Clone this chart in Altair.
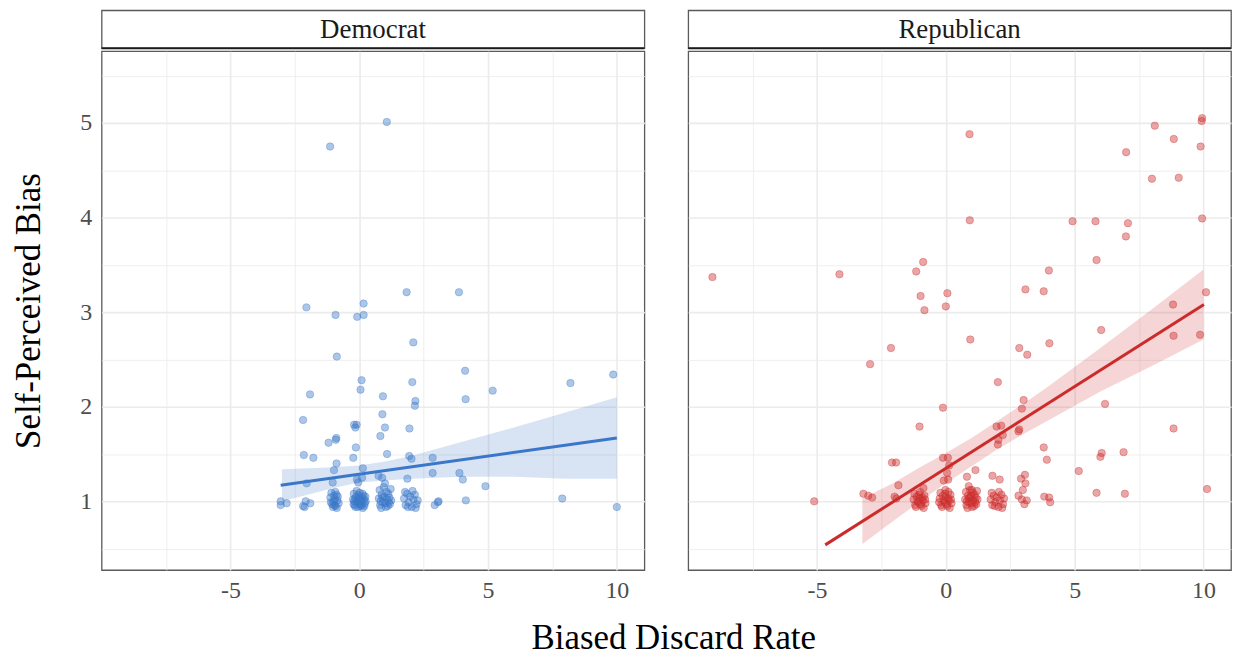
import altair as alt
import pandas as pd

FONT = "Liberation Serif"

# ---------------- data ----------------
dem_x = [1.07, -1.13, 1.84, 3.87, 0.17, -2.05, -0.92, -0.08, 0.17, 2.10, -0.87, 4.11, 9.86, 8.2,
         0.09, 2.06, 5.18, 0.05, -1.91, 0.92, 4.13, 2.18, 2.16, 0.9, -2.18, -0.2, -0.1, -0.15, 1.0,
         1.95, 0.82, -1.19, -0.91, -0.89, -0.13, -2.15, -1.78, 1.08, 1.94, 2.03, -0.23, -0.88, 2.85,
         0.14, -0.98, 2.85, 3.89, 4.02, 0.75, 0.89, -0.09, 0.11, -0.04, -1.03, -2.04, 1.87, 4.9,
         -3.05, -3.05, -2.82, -2.18, -2.08, -1.9, -2.12, 2.93, 3.08, 3.05, 4.14, 7.88, 10.0,
         # cluster near -1
         -1.12, -1.05, -0.98, -0.92, -0.85, -1.08, -0.95, -0.80, -1.02, -0.88, -1.10, -0.93, -0.83,
         -1.00, -0.96, -0.87,
         # cluster near 0
         -0.24, -0.18, -0.12, -0.06, 0.00, 0.05, 0.11, 0.17, 0.22, -0.21, -0.15, -0.09, -0.03, 0.03,
         0.08, 0.14, 0.19, 0.25, -0.22, -0.10, 0.02, 0.13, -0.05, 0.07, -0.16, 0.20, -0.01, 0.10,
         -0.19, 0.24,
         # cluster near 1
         0.76, 0.81, 0.87, 0.92, 0.97, 1.03, 1.08, 1.13, 1.19, 1.24, 0.79, 0.85, 0.90, 0.95, 1.01,
         1.06, 1.11, 1.17, 1.22, 0.83, 1.00, 1.15,
         # cluster near 2
         1.74, 1.80, 1.86, 1.92, 1.98, 2.04, 2.10, 2.16, 2.22, 2.27, 1.78, 2.07, 2.19, 1.89]
dem_y = [5.01, 4.75, 3.21, 3.21, 3.09, 3.05, 2.97, 2.95, 2.97, 2.68, 2.53, 2.38, 2.34, 2.25,
         2.28, 2.26, 2.17, 2.18, 2.13, 2.11, 2.08, 2.06, 2.01, 1.92, 1.86, 1.81, 1.81, 1.78, 1.78,
         1.77, 1.69, 1.62, 1.65, 1.67, 1.57, 1.49, 1.46, 1.50, 1.48, 1.45, 1.46, 1.40, 1.46,
         1.35, 1.33, 1.30, 1.30, 1.23, 1.27, 1.25, 1.23, 1.25, 1.20, 1.20, 1.19, 1.24, 1.16,
         1.00, 0.96, 0.98, 0.95, 1.00, 0.98, 0.94, 0.96, 1.00, 0.99, 1.01, 1.03, 0.94,
         1.04, 0.97, 1.06, 0.95, 1.01, 1.09, 1.02, 0.98, 0.94, 1.07, 0.99, 1.10, 1.05,
         1.00, 0.96, 0.93,
         1.02, 0.96, 1.05, 0.99, 1.03, 0.95, 1.01, 1.06, 0.98, 1.08, 0.94, 1.00, 1.07, 0.97,
         1.04, 0.93, 1.02, 1.00, 0.97, 1.11, 1.09, 1.08, 0.94, 1.00, 1.03, 0.95, 1.01, 0.96,
         1.00, 1.05,
         1.03, 0.96, 1.07, 0.99, 1.05, 0.94, 1.02, 1.08, 0.97, 1.01, 1.12, 0.93, 1.04, 1.15, 0.98,
         1.10, 0.95, 1.04, 1.13, 1.00, 1.19, 0.99,
         1.03, 0.96, 1.08, 0.99, 1.05, 0.94, 1.02, 1.07, 0.97, 1.01, 1.10, 1.11, 0.93, 0.94]

rep_x = [9.95, 9.93, 8.11, 0.92, 8.85, 9.89, 7.0, 8.0, 9.04,
         0.93, 4.92, 5.81, 7.07, 9.95, 6.99, 5.85, -0.88, -9.06, -4.13, -1.15, 4.0,
         -0.98, 0.06, 0.0, -0.83, 3.09, 3.80, 10.1, 8.82, 6.03, 8.84, 9.87, 0.95, 2.85, 4.02, 3.16,
         -2.13, -2.94,
         2.02, -0.11, 3.02, 2.95, 6.18, -1.02, 1.97, 2.15, 2.85, 8.84,
         2.21, 2.04, 2.02, 2.82, 3.80, 3.92, 6.05, 6.0, 6.9, 5.16, 5.85, 6.95, -2.09, -1.93, -0.11,
         0.08, 0.13, 0.05, -0.08, 0.09, -1.84, 1.15, 0.82, 1.81, 2.09, 2.92, 3.07, 3.09, 2.99, 0.89,
         1.01, -0.87, -1.99, 3.82, 4.01, 4.05, 2.82, 3.14, -5.11, -3.2, -3.01, -2.86, -1.92, 10.14,
         2.95, 3.05,
         # cluster near -1
         -1.25, -1.19, -1.13, -1.07, -1.01, -0.95, -0.89, -0.83, -0.79, -1.22, -1.16, -1.10, -1.04,
         -0.98, -0.92, -0.86, -1.00, -0.80,
         # cluster near 0
         -0.24, -0.18, -0.12, -0.06, 0.00, 0.06, 0.12, 0.18, 0.22, -0.21, -0.15, -0.09, -0.03, 0.03,
         0.09, 0.15, 0.20, -0.02, -0.26, 0.10,
         # cluster near 1
         0.75, 0.80, 0.86, 0.91, 0.96, 1.02, 1.07, 1.12, 1.18, 1.23, 0.78, 0.84, 0.89, 0.94, 1.00,
         1.05, 1.10, 1.16, 1.21, 0.82, 0.98, 1.14,
         # cluster near 2
         1.74, 1.80, 1.86, 1.92, 1.98, 2.04, 2.10, 2.16, 2.22, 2.26, 1.78, 2.06, 2.19, 1.90]
rep_y = [5.05, 5.02, 4.97, 4.88, 4.83, 4.75, 4.69, 4.41, 4.42,
         3.97, 3.96, 3.96, 3.94, 3.99, 3.80, 3.55, 3.53, 3.37, 3.40, 3.43, 3.44,
         3.17, 3.20, 3.06, 3.02, 3.24, 3.22, 3.21, 3.08, 2.81, 2.75, 2.76, 2.71, 2.62, 2.67, 2.55,
         2.62, 2.45,
         2.26, 1.99, 2.07, 1.98, 2.03, 1.79, 1.79, 1.80, 1.76, 1.77,
         1.70, 1.65, 1.60, 1.74, 1.57, 1.44, 1.51, 1.47, 1.52, 1.32, 1.09, 1.08, 1.41, 1.41, 1.46,
         1.46, 1.38, 1.30, 1.22, 1.23, 1.17, 1.33, 1.26, 1.27, 1.23, 1.24, 1.28, 1.19, 1.12, 1.16,
         1.12, 1.14, 1.05, 1.05, 1.04, 0.99, 1.06, 1.01, 1.00, 1.08, 1.06, 1.04, 1.03, 1.13,
         1.02, 0.97,
         1.02, 0.96, 1.05, 0.99, 1.03, 0.95, 1.01, 1.06, 0.98, 1.08, 0.94, 1.00, 1.07,
         0.97, 1.04, 0.93, 1.10, 1.02,
         1.03, 0.96, 1.06, 0.99, 1.04, 0.95, 1.01, 1.07, 0.98, 1.09, 0.94, 1.01, 1.08, 0.97,
         1.03, 0.93, 1.02, 1.12, 0.99, 1.10,
         1.02, 0.96, 1.06, 0.99, 1.04, 0.94, 1.01, 1.07, 0.97, 1.02, 1.10, 0.93, 1.03, 1.12, 0.98,
         1.09, 0.95, 1.04, 1.11, 1.00, 1.06, 0.99,
         1.02, 0.96, 1.06, 0.99, 1.04, 0.94, 1.01, 1.07, 0.97, 1.03, 1.09, 1.10, 0.93, 0.95]

# fitted lines and confidence bands
dem_line_x = [-3.05, 10.0]
dem_line_y = [1.17, 1.67]
dem_band_x = [-3, -2, -1, 0, 1, 2, 4, 6, 8, 10]
dem_band_lo = [1.00, 1.07, 1.14, 1.20, 1.22, 1.24, 1.26, 1.26, 1.24, 1.24]
dem_band_hi = [1.34, 1.35, 1.36, 1.38, 1.42, 1.48, 1.63, 1.78, 1.94, 2.10]

rep_line_x = [-4.68, 10.02]
rep_line_y = [0.54, 3.08]
rep_band_x = [-3.24, -2, -1, 0, 1, 2, 3, 4, 6, 8, 10]
rep_band_lo = [0.55, 0.80, 1.00, 1.19, 1.37, 1.55, 1.71, 1.86, 2.16, 2.43, 2.71]
rep_band_hi = [1.03, 1.20, 1.36, 1.51, 1.67, 1.85, 2.03, 2.22, 2.62, 3.03, 3.45]

x_ticks = [-7.5, -5, -2.5, 0, 2.5, 5, 7.5, 10]
y_ticks = [0.5, 1, 1.5, 2, 2.5, 3, 3.5, 4, 4.5, 5, 5.5]

# ---------------- styling ----------------
XDOM = [-10.0, 11.07]
YDOM = [0.274, 5.758]
W, H, STRIP_H = 545, 521, 38
GRID = "#ebebeb"
BORDER = "#5a5a5a"


def x_enc(field):
    return alt.X(field, type="quantitative", title=None,
                 scale=alt.Scale(domain=XDOM, nice=False, zero=False),
                 axis=alt.Axis(values=x_ticks, ticks=False, domain=False,
                               labelExpr="datum.value % 5 === 0 ? '' + datum.value : ''",
                               labelFont=FONT, labelFontSize=24, labelColor="#4d4d4d",
                               labelPadding=9, gridColor=GRID,
                               gridWidth={"condition": {"test": "datum.value % 5 === 0", "value": 1.6},
                                          "value": 0.8}))


def y_enc(field, show):
    axis_kw = dict(values=y_ticks, ticks=False, domain=False, gridColor=GRID,
                   gridWidth={"condition": {"test": "datum.value % 1 === 0", "value": 1.6},
                              "value": 0.8})
    if show:
        axis_kw.update(labelExpr="datum.value % 1 === 0 ? '' + datum.value : ''",
                       labelFont=FONT, labelFontSize=24, labelColor="#4d4d4d", labelPadding=10,
                       title="Self-Perceived Bias", titleFont=FONT, titleFontSize=35,
                       titleFontWeight="normal", titleColor="#000000", titlePadding=33)
    else:
        axis_kw.update(labels=False, title=None)
    return alt.Y(field, type="quantitative",
                 scale=alt.Scale(domain=YDOM, nice=False, zero=False),
                 axis=alt.Axis(**axis_kw), title=axis_kw.get("title"))


def panel(px, py, lx, ly, bx, blo, bhi, color, show_y):
    pts = pd.DataFrame({"x": px, "y": py})
    line = pd.DataFrame({"x": lx, "y": ly})
    band = pd.DataFrame({"x": bx, "lo": blo, "hi": bhi})
    band_l = alt.Chart(band).mark_area(color=color, opacity=0.2).encode(
        x=x_enc("x"), y=y_enc("lo", show_y), y2=alt.Y2("hi"))
    line_l = alt.Chart(line).mark_line(color=color, strokeWidth=3).encode(
        x=x_enc("x"), y=y_enc("y", show_y))
    pts_l = alt.Chart(pts).mark_circle(size=56, color=color, fillOpacity=0.42,
                                       stroke=color, strokeOpacity=0.42, strokeWidth=0.8).encode(
        x=x_enc("x"), y=y_enc("y", show_y))
    return alt.layer(band_l, pts_l, line_l).properties(width=W, height=H)


def strip(name):
    df = pd.DataFrame({"label": [name]})
    txt = alt.Chart(df).mark_text(font=FONT, fontSize=27, color="#1a1a1a", baseline="middle",
                                  align="center").encode(
        text="label:N", x=alt.value(W / 2), y=alt.value(STRIP_H / 2 + 1))
    rule = alt.Chart(df).mark_rule(color="#1a1a1a", strokeWidth=2).encode(
        x=alt.value(0), x2=alt.value(W), y=alt.value(STRIP_H))
    return alt.layer(txt, rule).properties(width=W, height=STRIP_H)


dem_panel = panel(dem_x, dem_y, dem_line_x, dem_line_y, dem_band_x, dem_band_lo, dem_band_hi,
                  "#3a77c9", True)
rep_panel = panel(rep_x, rep_y, rep_line_x, rep_line_y, rep_band_x, rep_band_lo, rep_band_hi,
                  "#cc2b2b", False)

chart = alt.hconcat(
    alt.vconcat(strip("Democrat"), dem_panel, spacing=0),
    alt.vconcat(strip("Republican"), rep_panel, spacing=0),
    spacing=40,
).properties(
    title=alt.TitleParams("Biased Discard Rate", orient="bottom", anchor="middle", font=FONT,
                          fontSize=35, fontWeight="normal", color="#000000", offset=18, dx=52),
    padding={"left": 3, "top": 0, "right": 0, "bottom": 0},
).configure_view(stroke=BORDER, strokeWidth=1.3)

chart.save("out.html", embed_options={"renderer": "svg", "actions": False})
